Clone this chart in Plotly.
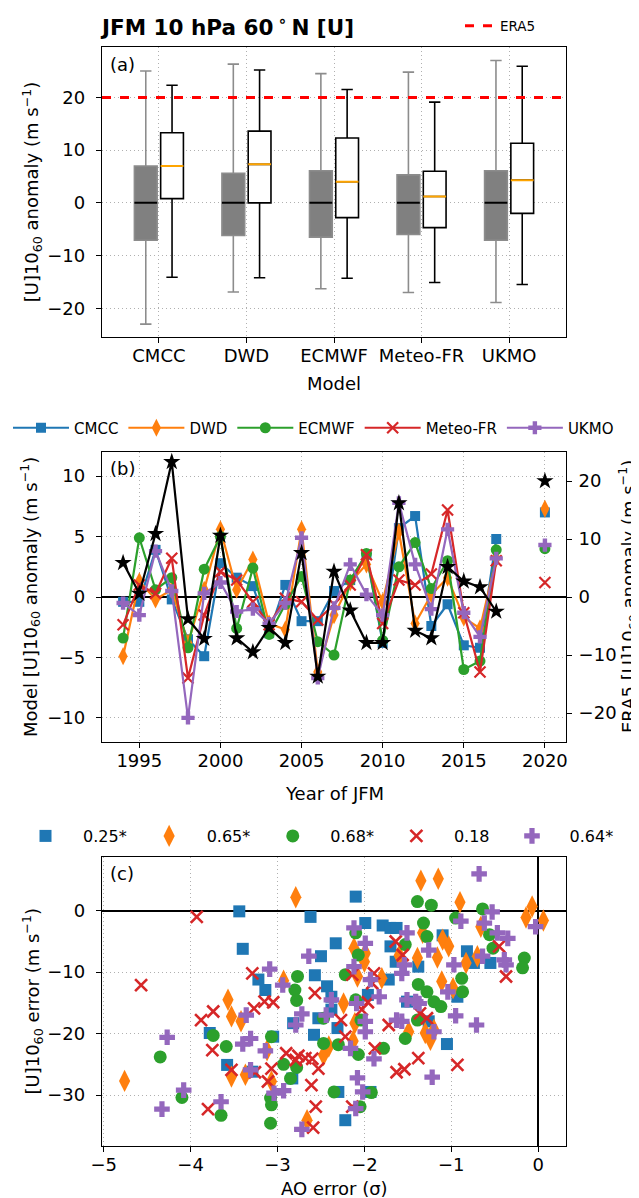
import plotly.graph_objects as go

FONT = "DejaVu Sans"
models = ["CMCC", "DWD", "ECMWF", "Meteo-FR", "UKMO"]
colors = ["#1f77b4", "#ff7f0e", "#2ca02c", "#d62728", "#9467bd"]

# ---------------- Panel (a) data ----------------
clim_q1 = [-7.1, -6.2, -6.5, -6.0, -7.1]
clim_med = [0.0, 0.0, 0.0, 0.0, 0.0]
clim_q3 = [7.0, 5.6, 6.1, 5.3, 6.1]
clim_lo = [-23.0, -16.9, -16.3, -17.0, -18.9]
clim_hi = [25.0, 26.3, 24.5, 24.8, 27.0]

fc_q1 = [0.8, 0.0, -2.8, -4.7, -2.0]
fc_med = [7.0, 7.3, 4.0, 1.2, 4.3]
fc_q3 = [13.3, 13.6, 12.3, 6.0, 11.3]
fc_lo = [-14.1, -14.2, -14.3, -15.1, -15.5]
fc_hi = [22.3, 25.2, 21.5, 19.1, 25.9]

era5_value = 20.0

# ---------------- Panel (b) data ----------------
years = [1994, 1995, 1996, 1997, 1998, 1999, 2000, 2001, 2002, 2003, 2004, 2005,
         2006, 2007, 2008, 2009, 2010, 2011, 2012, 2013, 2014, 2015, 2016, 2017]
mean_year = 2020
u_cmcc = [-0.4, -0.4, 3.9, -0.2, -3.5, -4.9, 2.8, 1.6, 0.9, -3.0, 1.0, -2.0,
          -2.0, 0.5, 1.4, 3.5, -3.8, 5.7, 6.7, -2.4, -0.6, -4.0, -4.2, 4.8]
u_dwd = [-4.9, 1.3, -0.2, 0.6, -3.8, 0.6, 5.6, 0.6, 3.1, -2.2, -2.7, 5.6,
         -6.2, -1.5, 1.2, 2.7, -0.4, 5.4, -2.2, 0.2, 1.6, -1.7, -2.6, 3.2]
u_ecmwf = [-3.4, 4.9, 0.6, 1.6, -4.2, 2.3, 5.0, -2.6, 2.4, -3.1, -0.6, 1.7,
           -3.7, -4.8, 1.4, 3.6, -3.6, 2.5, 4.5, 0.7, 3.0, -6.0, -5.3, 3.9]
u_meteo = [-2.3, 1.0, 0.3, 3.2, -6.7, -1.5, 2.1, 1.4, -0.4, -2.3, -0.1, -0.4,
           -1.9, -0.6, 1.0, 3.5, -2.2, 1.4, 1.0, 1.9, 7.2, -1.3, -6.2, 3.0]
u_ukmo = [-0.5, -1.5, 3.8, 0.5, -10.0, 0.3, 1.2, -1.2, -1.0, -2.2, -0.5, 4.9,
          -6.7, -0.9, 2.7, 0.2, -1.5, 7.8, 2.7, -1.0, 5.6, -1.3, -3.3, 3.2]
u_era5 = [5.9, 0.6, 10.9, 23.3, -3.8, -7.2, 10.6, -7.1, -9.5, -5.3, -7.9, 7.6,
          -13.7, 4.4, -2.3, -7.9, -7.9, 16.2, -5.8, -7.1, 5.2, 2.7, 1.7, -2.5]

# ---------------- Panel (c) data ----------------
corr_labels = ["0.25*", "0.65*", "0.68*", "0.18", "0.64*"]
ao_cmcc = [-2.10, -3.44, -2.62, -3.40, -1.99, -1.79, -1.70, -1.63, -1.10, -2.33, -1.70,
           -2.50, -1.64, -1.38, -0.82, -0.55, -0.74, -2.57, -3.22, -3.14, -2.43, -2.38,
           -1.96, -1.72, -0.93, -1.51, -2.38, -2.82, -2.53, -2.31, -1.26, -2.58, -3.78,
           -3.05, -1.05, -3.58, -3.29, -2.83, -2.30, -1.93, -2.22]
du_cmcc = [2.3, -0.1, -1.0, -6.2, -2.0, -2.4, -2.8, -2.8, -4.0, -5.3, -5.8,
           -7.4, -8.3, -9.1, -6.6, -8.5, -8.5, -10.5, -11.2, -12.9, -12.3, -14.0,
           -13.7, -11.2, -14.0, -14.8, -16.1, -18.3, -17.5, -19.1, -18.0, -20.2, -19.9,
           -20.5, -21.7, -25.1, -26.2, -27.3, -29.5, -29.5, -34.1]
ao_dwd = [-2.79, -1.35, -1.15, -0.90, -0.07, -0.14, 0.06, -0.66, -1.33, -1.10, -1.03,
          -1.16, -1.39, -1.60, -0.83, -0.70, -1.99, -2.12, -2.00, -2.08, -1.80, -1.11,
          -2.93, -3.57, -3.53, -3.42, -2.24, -2.11, -2.13, -1.49, -1.30, -1.24, -1.20,
          -3.12, -2.47, -2.41, -3.53, -3.37, -3.07, -4.76, -2.66, -0.98]
du_dwd = [2.2, 4.9, 5.2, 1.4, 0.7, -1.1, -1.6, -2.6, -3.6, -4.7, -5.8,
          -7.6, -7.7, -7.3, -8.5, -7.4, -6.9, -6.1, -8.3, -10.7, -11.0, -11.5,
          -11.4, -14.5, -17.2, -18.0, -15.1, -18.3, -21.2, -19.7, -19.9, -21.0, -19.4,
          -22.7, -23.5, -22.1, -27.0, -26.7, -27.8, -27.7, -34.1, -12.6]
ao_ecmwf = [-1.39, -1.23, -0.95, -0.64, -1.32, -1.28, -2.10, -1.53, -2.07, -0.56, -0.52,
            -0.16, -0.18, -0.88, -0.87, -2.77, -2.80, -2.78, -2.22, -1.38, -1.28, -1.20,
            -1.12, -2.10, -1.39, -2.04, -2.47, -1.53, -1.78, -2.07, -2.47, -2.30, -3.07,
            -3.74, -3.59, -4.35, -2.93, -2.78, -2.85, -2.35, -1.92, -3.08, -3.07, -2.05,
            -4.10, -3.65, -3.08]
du_ecmwf = [1.5, 0.9, -1.2, 0.3, -2.0, -4.2, -3.6, -5.5, -7.2, -3.9, -6.1,
            -7.7, -9.3, -11.0, -13.2, -10.7, -12.9, -14.6, -10.4, -12.0, -13.2, -14.8,
            -15.6, -14.5, -17.8, -17.8, -17.5, -20.8, -22.4, -23.4, -21.6, -21.8, -20.5,
            -20.3, -22.1, -23.8, -25.0, -25.5, -27.3, -29.5, -29.6, -30.5, -31.6, -31.9,
            -30.4, -33.3, -34.6]
ao_meteo = [-3.93, -4.57, -3.29, -1.64, -1.56, -0.45, -0.37, -2.14, -1.89, -1.91, -2.57,
            -3.15, -3.05, -3.27, -3.74, -3.88, -3.75, -3.53, -1.96, -2.27, -2.22, -2.03,
            -1.36, -1.28, -1.72, -1.88, -1.38, -1.54, -1.63, -0.93, -2.90, -2.76, -2.68,
            -2.60, -2.79, -2.53, -3.07, -3.11, -3.26, -2.61, -2.56, -2.59, -3.80, -2.14]
du_meteo = [-1.0, -12.1, -10.2, -5.0, -7.2, -5.8, -10.7, -10.4, -10.2, -11.8, -13.4,
            -14.8, -14.9, -15.9, -16.4, -17.8, -22.7, -25.9, -14.9, -17.8, -20.5, -16.1,
            -16.7, -17.5, -18.6, -22.4, -24.0, -25.8, -26.3, -25.1, -23.2, -23.6, -24.0,
            -24.1, -24.3, -25.7, -25.7, -27.8, -26.3, -28.4, -31.9, -35.3, -32.3, -31.9]
ao_ukmo = [-0.68, -0.53, -0.89, -0.62, -0.47, -0.35, -0.03, -0.64, -0.39, -0.37, -0.97,
           -1.51, -1.26, -1.54, -1.57, -2.12, -1.99, -2.12, -1.93, -1.83, -2.09, -2.64,
           -3.09, -2.94, -2.38, -2.72, -2.79, -2.44, -1.99, -1.99, -1.63, -1.57, -1.51,
           -1.41, -1.37, -1.04, -0.95, -0.71, -1.20, -3.36, -3.31, -3.40, -3.14, -4.27,
           -2.16, -1.89, -3.31, -2.08, -1.22, -3.04, -2.93, -2.02, -4.08, -3.65, -4.33,
           -2.10, -2.72]
du_ukmo = [6.0, -0.2, -1.7, -2.0, -3.6, -4.5, -2.6, -7.4, -8.0, -8.8, -8.8,
           -3.6, -6.4, -8.8, -10.2, -2.8, -5.3, -9.1, -11.2, -14.0, -15.1, -7.4,
           -9.5, -12.1, -14.5, -16.8, -18.6, -17.0, -18.0, -19.7, -17.8, -18.0, -14.5,
           -14.8, -15.1, -13.2, -17.1, -18.6, -19.7, -17.0, -20.8, -21.7, -22.8, -20.6,
           -22.4, -24.1, -25.9, -27.2, -27.1, -29.7, -29.3, -29.5, -29.2, -31.1, -32.3,
           -32.2, -35.6]

# ---------------- layout constants ----------------
W, H = 639, 1198
XD = [94 / W, 558 / W]
YD_A = [1 - 329.3 / H, 1 - 39.3 / H]
YD_B = [1 - 734 / H, 1 - 444 / H]
YD_C = [1 - 1138 / H, 1 - 849 / H]
XR_A = [0.35, 5.65]

TICKF = dict(family=FONT, size=18, color="black")
GRID = dict(showgrid=True, gridcolor="#b0b0b0", griddash="1px,3px", gridwidth=1)
AXB = dict(showline=True, mirror=True, linecolor="black", linewidth=1.3,
           ticks="outside", ticklen=5, tickwidth=1.2, tickcolor="black",
           tickfont=TICKF, automargin=False)
XSO = dict(ticklabelstandoff=-3)
YSO = dict(ticklabelstandoff=7)

fig = go.Figure()

# ---------------- Panel (a) ----------------
pos = [1, 2, 3, 4, 5]
off = 0.15
bw = 0.26
grey_x = [p - off for p in pos]
white_x = [p + off for p in pos]

fig.add_trace(go.Box(x=grey_x, q1=clim_q1, median=clim_med, q3=clim_q3,
                     lowerfence=clim_lo, upperfence=clim_hi, width=bw,
                     fillcolor="#808080", line=dict(color="#8c8c8c", width=1.6),
                     whiskerwidth=0.5, xaxis="x", yaxis="y", showlegend=False,
                     hoverinfo="skip", boxpoints=False))
fig.add_trace(go.Box(x=white_x, q1=fc_q1, median=fc_med, q3=fc_q3,
                     lowerfence=fc_lo, upperfence=fc_hi, width=bw,
                     fillcolor="white", line=dict(color="black", width=1.6),
                     whiskerwidth=0.5, xaxis="x", yaxis="y", showlegend=False,
                     hoverinfo="skip", boxpoints=False))


def segs(xc, vals, w):
    xs, ys = [], []
    for c, v in zip(xc, vals):
        xs += [c - w / 2, c + w / 2, None]
        ys += [v, v, None]
    return xs, ys


mx, my = segs(grey_x, clim_med, bw)
fig.add_trace(go.Scatter(x=mx, y=my, mode="lines", line=dict(color="black", width=2),
                         xaxis="x", yaxis="y", showlegend=False, hoverinfo="skip"))
mx, my = segs(white_x, fc_med, bw)
fig.add_trace(go.Scatter(x=mx, y=my, mode="lines", line=dict(color="#ffa500", width=2),
                         xaxis="x", yaxis="y", showlegend=False, hoverinfo="skip"))
fig.add_trace(go.Scatter(x=XR_A, y=[era5_value, era5_value], mode="lines",
                         line=dict(color="red", width=3, dash="dash"), name="ERA5",
                         xaxis="x", yaxis="y", legend="legend", hoverinfo="skip"))

# ---------------- Panel (b) ----------------
sym_b = ["square", "diamond-tall", "circle", "x-thin", "cross"]
size_b = [10, 13, 11, 11, 11]
series_b = [u_cmcc, u_dwd, u_ecmwf, u_meteo, u_ukmo]
for name, col, sym, sz, vals, med in zip(models, colors, sym_b, size_b, series_b, fc_med):
    mk = dict(symbol=sym, size=sz, color=col)
    if sym == "x-thin":
        mk["line"] = dict(width=2.2, color=col)
    fig.add_trace(go.Scatter(x=years, y=vals, mode="lines+markers", name=name,
                             line=dict(color=col, width=2.2), marker=mk,
                             xaxis="x2", yaxis="y2", legend="legend2", hoverinfo="skip"))
    fig.add_trace(go.Scatter(x=[mean_year], y=[med], mode="markers", marker=mk,
                             xaxis="x2", yaxis="y2", showlegend=False, hoverinfo="skip"))
fig.add_trace(go.Scatter(x=years, y=u_era5, mode="lines+markers", name="ERA5",
                         line=dict(color="black", width=2.2),
                         marker=dict(symbol="star", size=13, color="black"),
                         xaxis="x2", yaxis="y3", showlegend=False, hoverinfo="skip"))
fig.add_trace(go.Scatter(x=[mean_year], y=[era5_value], mode="markers",
                         marker=dict(symbol="star", size=13, color="black"),
                         xaxis="x2", yaxis="y3", showlegend=False, hoverinfo="skip"))

# ---------------- Panel (c) ----------------
sym_c = ["square", "diamond-tall", "circle", "x-thin", "cross"]
size_c = [12, 16, 13, 12, 13]
ao_all = [ao_cmcc, ao_dwd, ao_ecmwf, ao_meteo, ao_ukmo]
du_all = [du_cmcc, du_dwd, du_ecmwf, du_meteo, du_ukmo]
for lab, col, sym, sz, xs, ys in zip(corr_labels, colors, sym_c, size_c, ao_all, du_all):
    mk = dict(symbol=sym, size=sz, color=col)
    if sym == "x-thin":
        mk["line"] = dict(width=2.6, color=col)
    fig.add_trace(go.Scatter(x=xs, y=ys, mode="markers", name=lab, marker=mk,
                             xaxis="x4", yaxis="y4", legend="legend3", hoverinfo="skip"))

# ---------------- Axes ----------------
ZL = dict(zeroline=True, zerolinecolor="black", zerolinewidth=1.6)
NZ = dict(zeroline=False)
fig.update_layout(
    xaxis=dict(domain=XD, anchor="y", range=XR_A, tickvals=pos, ticktext=models,
               **GRID, **AXB, **NZ, **XSO),
    yaxis=dict(domain=YD_A, anchor="x", range=[-25.5, 29.5], tickvals=[-20, -10, 0, 10, 20],
               **GRID, **AXB, **NZ, **YSO),
    xaxis2=dict(domain=XD, anchor="y2", range=[1992.7, 2021.3],
                tickvals=[1995, 2000, 2005, 2010, 2015, 2020], **GRID, **AXB, **NZ, **XSO),
    yaxis2=dict(domain=YD_B, anchor="x2", range=[-12, 12], tickvals=[-10, -5, 0, 5, 10],
                **GRID, **AXB, **ZL, **YSO),
    yaxis3=dict(overlaying="y2", side="right", anchor="x2", range=[-25, 25],
                tickvals=[-20, -10, 0, 10, 20], showgrid=False,
                ticks="outside", ticklen=5, tickwidth=1.2, tickcolor="black",
                tickfont=TICKF, zeroline=False, showline=False, automargin=False,
                ticklabelstandoff=3),
    xaxis4=dict(domain=XD, anchor="y4", range=[-5.02, 0.32], tickvals=[-5, -4, -3, -2, -1, 0],
                **GRID, **AXB, **ZL, **XSO),
    yaxis4=dict(domain=YD_C, anchor="x4", range=[-38.3, 8.75], tickvals=[-30, -20, -10, 0],
                **GRID, **AXB, **ZL, **YSO),
)


def ytitle(text, xpx, ymid_px):
    return dict(text=text, x=xpx / W, y=1 - ymid_px / H, xref="paper", yref="paper",
                xanchor="center", yanchor="middle", textangle=-90, showarrow=False,
                font=TICKF)


def xtitle(text, ypx):
    return dict(text=text, x=(94 + 558) / 2 / W, y=1 - ypx / H, xref="paper", yref="paper",
                xanchor="center", yanchor="middle", showarrow=False, font=TICKF)


fig.update_layout(
    width=W, height=H, margin=dict(l=0, r=0, t=0, b=0, autoexpand=False),
    paper_bgcolor="white", plot_bgcolor="white",
    font=dict(family=FONT, size=18, color="black"),
    boxmode="overlay",
    legend=dict(x=452 / W, y=1 - 18 / H, xanchor="left", yanchor="middle",
                font=dict(family=FONT, size=13.5), bgcolor="rgba(0,0,0,0)", itemwidth=30),
    legend2=dict(x=0, y=1 - 420 / H, xanchor="left", yanchor="middle",
                 orientation="h", font=dict(family=FONT, size=15),
                 bgcolor="rgba(0,0,0,0)", itemwidth=56),
    legend3=dict(x=0, y=1 - 828 / H, xanchor="left", yanchor="middle",
                 orientation="h", font=dict(family=FONT, size=16),
                 bgcolor="rgba(0,0,0,0)", itemwidth=65),
    annotations=[
        dict(text="<b>JFM 10 hPa 60\u2009<sup>∘</sup>\u2009N [U]</b>", x=90 / W, y=1 - 18 / H,
             xref="paper", yref="paper", xanchor="left", yanchor="middle",
             showarrow=False, font=dict(family=FONT, size=21.5, color="black")),
        dict(text="(a)", x=0.012, y=0.985, xref="x domain", yref="y domain",
             xanchor="left", yanchor="top", showarrow=False, font=TICKF),
        dict(text="(b)", x=0.012, y=0.985, xref="x2 domain", yref="y2 domain",
             xanchor="left", yanchor="top", showarrow=False, font=TICKF),
        dict(text="(c)", x=0.012, y=0.985, xref="x4 domain", yref="y4 domain",
             xanchor="left", yanchor="top", showarrow=False, font=TICKF),
        ytitle("[U]10<sub>60</sub> anomaly (m s<sup>−1</sup>)", 24, (39.3 + 329.3) / 2),
        ytitle("Model [U]10<sub>60</sub> anomaly (m s<sup>−1</sup>)", 22, (444 + 734) / 2),
        ytitle("ERA5 [U]10<sub>60</sub> anomaly (m s<sup>−1</sup>)", 620, (444 + 734) / 2),
        ytitle("[U]10<sub>60</sub> error (m s<sup>−1</sup>)", 24, (849 + 1138) / 2),
        xtitle("Model", 375),
        xtitle("Year of JFM", 785),
        xtitle("AO error (σ)", 1180),
    ],
)

fig.write_html("out.html")
